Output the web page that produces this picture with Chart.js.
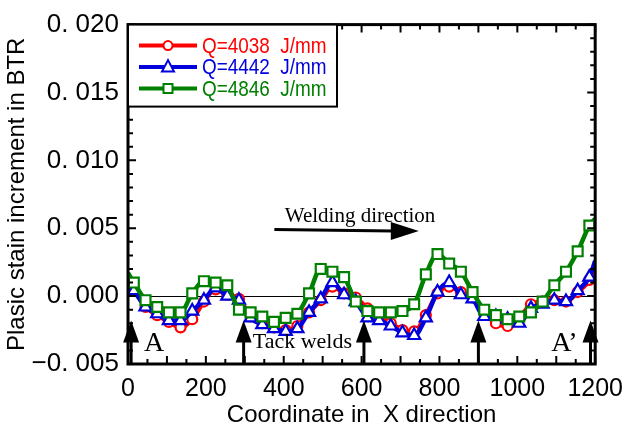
<!DOCTYPE html>
<html>
<head>
<meta charset="utf-8">
<script src="https://cdn.jsdelivr.net/npm/chart.js@4/dist/chart.umd.min.js"></script>
<style>
  html, body { margin: 0; padding: 0; background: #fff; }
  #wrap { width: 625px; height: 434px; }
</style>
</head>
<body>
<div id="wrap"><canvas id="c" width="625" height="434"></canvas></div>
<script>
// coordinate along X (mm) for every sample, and plastic strain increment per heat input
const xPos = [0, 15, 45, 75, 105, 135, 165, 195, 225, 255, 285, 315, 345, 375, 405, 435, 465, 495, 525, 555, 585,
  615, 645, 675, 705, 735, 765, 795, 825, 855, 885, 915, 945, 975, 1005, 1035, 1065, 1095, 1125, 1155, 1185, 1200];

const q4038 = [0.0007, 0.0004, -0.0008, -0.0014, -0.0019, -0.0023, -0.0017, -0.0004, 0.0005, 0.0001, -0.0002,
  -0.0015, -0.0020, -0.0023, -0.0025, -0.0022, -0.0012, -0.0003, 0.0007, 0.0002, -0.0001,
  -0.0009, -0.0015, -0.0020, -0.0025, -0.0026, -0.0014, 0.0002, 0.0007, 0.0003, -0.0001,
  -0.0012, -0.0020, -0.0022, -0.0016, -0.0006, -0.0004, -0.0003, -0.0004, 0.0003, 0.0012, 0.0024];

const q4442 = [0.0008, 0.0004, -0.0008, -0.0013, -0.0018, -0.0018, -0.0011, -0.0003, 0.0006, 0.0000, -0.0003,
  -0.0016, -0.0021, -0.0024, -0.0026, -0.0024, -0.0012, -0.0002, 0.0010, 0.0001, -0.0004,
  -0.0016, -0.0018, -0.0022, -0.0027, -0.0029, -0.0016, 0.0003, 0.0010, 0.0001, -0.0002,
  -0.0015, -0.0015, -0.0017, -0.0020, -0.0009, -0.0006, -0.0003, -0.0004, 0.0004, 0.0014, 0.0026];

const q4846 = [0.0017, 0.0010, -0.0003, -0.0008, -0.0012, -0.0012, 0.0002, 0.0011, 0.0010, 0.0008, -0.0010,
  -0.0012, -0.0015, -0.0019, -0.0016, -0.0013, 0.0002, 0.0020, 0.0018, 0.0014, -0.0004,
  -0.0011, -0.0012, -0.0012, -0.0011, -0.0006, 0.0016, 0.0031, 0.0024, 0.0018, 0.0003,
  -0.0010, -0.0014, -0.0017, -0.0015, -0.0012, -0.0004, 0.0008, 0.0018, 0.0033, 0.0052, 0.0057];

const seriesLabels = ['Q=4038  J/mm', 'Q=4442  J/mm', 'Q=4846  J/mm'];
const tackWelds = [8, 297, 606, 900, 1188];
const yTicks = [-0.005, 0.000, 0.005, 0.010, 0.015, 0.020];

function pts(vals) {
  return vals.map((v, i) => ({ x: xPos[i], y: v }));
}
// no marker on the two end samples
function radius(r) {
  return ctx => (ctx.dataIndex === 0 || ctx.dataIndex === xPos.length - 1) ? 0 : r;
}

const colors = ['#ff0000', '#0000dd', '#008000'];
const styles = ['circle', 'triangle', 'rect'];
const radii = [5, 7, 7];

const datasets = [q4038, q4442, q4846].map((vals, i) => ({
  label: seriesLabels[i],
  data: pts(vals),
  borderColor: colors[i],
  backgroundColor: '#fff',
  borderWidth: 4.5,
  pointStyle: styles[i],
  pointRadius: radius(radii[i]),
  pointBorderWidth: 2.2,
  pointBorderColor: colors[i],
  pointBackgroundColor: '#fff',
  cubicInterpolationMode: 'monotone',
  order: 3 - i
}));

function upArrow(ctx, x, yBase, yTip) {
  ctx.save();
  ctx.fillStyle = '#000';
  ctx.strokeStyle = '#000';
  ctx.lineWidth = 3;
  ctx.beginPath();
  ctx.moveTo(x, yBase);
  ctx.lineTo(x, yTip + 18);
  ctx.stroke();
  ctx.beginPath();
  ctx.moveTo(x, yTip);
  ctx.lineTo(x - 8, yTip + 22);
  ctx.lineTo(x + 8, yTip + 22);
  ctx.closePath();
  ctx.fill();
  ctx.restore();
}

const decor = {
  id: 'decor',
  afterDatasetsDraw(chart) {
    const { ctx, chartArea: a, scales: { x, y } } = chart;
    ctx.save();

    // inward ticks
    ctx.strokeStyle = '#000';
    ctx.lineWidth = 2;
    for (let v = 0; v <= 1200; v += 50) {
      const px = x.getPixelForValue(v);
      const len = v % 100 === 0 ? 8 : 5;
      ctx.beginPath();
      ctx.moveTo(px, a.bottom); ctx.lineTo(px, a.bottom - len);
      ctx.moveTo(px, a.top); ctx.lineTo(px, a.top + len);
      ctx.stroke();
    }
    for (let k = -5; k <= 20; k++) {
      const py = y.getPixelForValue(k / 1000);
      const len = k % 5 === 0 ? 8 : 5;
      ctx.beginPath();
      ctx.moveTo(a.left, py); ctx.lineTo(a.left + len, py);
      ctx.moveTo(a.right, py); ctx.lineTo(a.right - len, py);
      ctx.stroke();
    }

    // frame
    ctx.lineWidth = 3;
    ctx.strokeRect(a.left, a.top, a.right - a.left, a.bottom - a.top);

    // tack weld arrows
    const tipY = y.getPixelForValue(-0.0018);
    tackWelds.forEach(v => upArrow(ctx, x.getPixelForValue(v), a.bottom, tipY));

    // labels
    ctx.fillStyle = '#000';
    ctx.textAlign = 'center';
    ctx.textBaseline = 'middle';
    ctx.font = '28px "Liberation Serif", "Times New Roman", serif';
    ctx.fillText('A', x.getPixelForValue(67), y.getPixelForValue(-0.0035));
    ctx.fillText('A\u2019', x.getPixelForValue(1121), y.getPixelForValue(-0.0035));
    ctx.font = '22px "Liberation Serif", "Times New Roman", serif';
    ctx.fillText('Tack welds', x.getPixelForValue(448), y.getPixelForValue(-0.0034));
    ctx.font = '21px "Liberation Serif", "Times New Roman", serif';
    ctx.fillText('Welding direction', x.getPixelForValue(596), y.getPixelForValue(0.0059));

    // welding direction arrow
    const x0 = x.getPixelForValue(376), x1 = x.getPixelForValue(747);
    const y0 = y.getPixelForValue(0.0049), y1 = y.getPixelForValue(0.0048);
    ctx.lineWidth = 3;
    ctx.beginPath();
    ctx.moveTo(x0, y0);
    ctx.lineTo(x1 - 26, y1);
    ctx.stroke();
    ctx.beginPath();
    ctx.moveTo(x1, y1);
    ctx.lineTo(x1 - 28, y1 - 9);
    ctx.lineTo(x1 - 28, y1 + 9);
    ctx.closePath();
    ctx.fill();

    // legend box
    const lx = a.left, ly = a.top, lw = 209, lh = 82;
    ctx.fillStyle = '#fff';
    ctx.fillRect(lx, ly, lw, lh);
    ctx.lineWidth = 2;
    ctx.strokeStyle = '#000';
    ctx.strokeRect(lx, ly, lw, lh);
    chart.data.datasets.forEach((ds, i) => {
      const ry = ly + 21 + i * 21.5;
      ctx.strokeStyle = ds.borderColor;
      ctx.lineWidth = 4;
      ctx.beginPath();
      ctx.moveTo(lx + 11, ry); ctx.lineTo(lx + 69, ry);
      ctx.stroke();
      const mx = lx + 40;
      ctx.lineWidth = 2;
      ctx.fillStyle = '#fff';
      ctx.beginPath();
      if (ds.pointStyle === 'circle') {
        ctx.arc(mx, ry, 4.5, 0, Math.PI * 2);
      } else if (ds.pointStyle === 'triangle') {
        ctx.moveTo(mx, ry - 7); ctx.lineTo(mx - 6, ry + 4.5); ctx.lineTo(mx + 6, ry + 4.5); ctx.closePath();
      } else {
        ctx.rect(mx - 4.5, ry - 4.5, 9, 9);
      }
      ctx.fill();
      ctx.stroke();
      ctx.save();
      ctx.fillStyle = ds.borderColor;
      ctx.textAlign = 'left';
      ctx.font = '22px "Liberation Sans", Arial, sans-serif';
      ctx.translate(lx + 74, ry + 1);
      ctx.scale(0.86, 1);
      ctx.fillText(ds.label, 0, 0);
      ctx.restore();
    });

    ctx.restore();
  }
};

new Chart(document.getElementById('c'), {
  type: 'line',
  data: { datasets: datasets },
  options: {
    responsive: false,
    animation: false,
    layout: { padding: { top: 17, right: 28, left: 0, bottom: 0 } },
    scales: {
      x: {
        type: 'linear',
        min: 0,
        max: 1200,
        afterFit: s => { s.height = 70; },
        ticks: {
          stepSize: 200,
          color: '#000',
          padding: 2,
          font: { family: '"Liberation Sans", Arial, sans-serif', size: 25 },
          callback: v => String(v)
        },
        grid: { display: false },
        border: { display: false },
        title: {
          display: true,
          text: 'Coordinate in  X direction',
          color: '#000',
          padding: { top: 0, bottom: 4 },
          font: { family: '"Liberation Sans", Arial, sans-serif', size: 24 }
        }
      },
      y: {
        min: -0.005,
        max: 0.020,
        afterFit: s => { s.width = 128; },
        afterBuildTicks: s => { s.ticks = yTicks.map(v => ({ value: v })); },
        ticks: {
          color: '#000',
          padding: 9,
          font: { family: '"Liberation Sans", Arial, sans-serif', size: 26 },
          callback: v => (v < 0 ? '\u22120. ' : '0. ') + Math.round(Math.abs(v) * 1000).toString().padStart(3, '0')
        },
        grid: {
          drawTicks: false,
          color: c => (c.tick && Math.abs(c.tick.value) < 1e-9) ? '#000' : 'rgba(0,0,0,0)',
          lineWidth: 1
        },
        border: { display: false },
        title: {
          display: true,
          text: 'Plasic stain increment in BTR',
          color: '#000',
          padding: { top: 3, bottom: 0 },
          font: { family: '"Liberation Sans", Arial, sans-serif', size: 24 }
        }
      }
    },
    plugins: {
      legend: { display: false },
      tooltip: { enabled: false }
    }
  },
  plugins: [decor]
});
</script>
</body>
</html>
